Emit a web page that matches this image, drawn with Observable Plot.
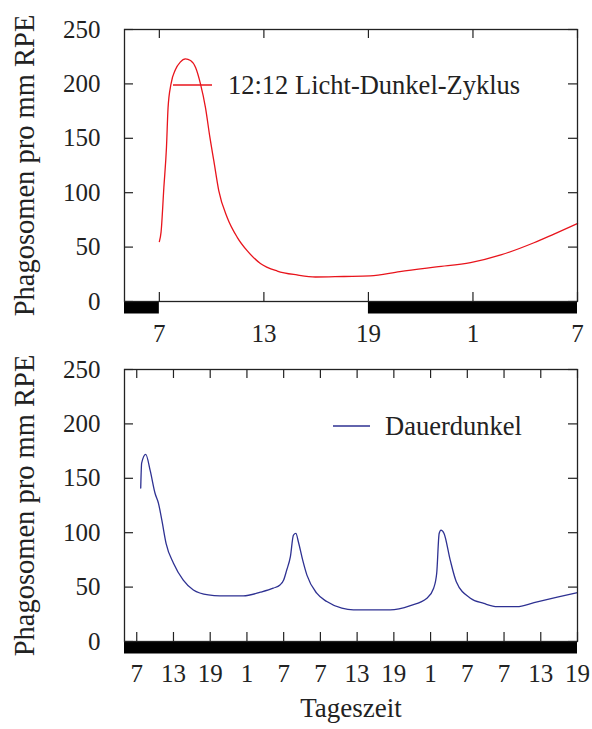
<!DOCTYPE html>
<html>
<head>
<meta charset="utf-8">
<script src="https://cdn.jsdelivr.net/npm/d3@7"></script>
<script src="https://cdn.jsdelivr.net/npm/@observablehq/plot@0.6"></script>
<style>
  body { margin: 0; background: #fff; }
  #chart svg { display: block; }
</style>
</head>
<body>
<div id="chart"></div>
<script>
// ---- Data ----
// 12:12 light-dark cycle (hours since midnight of day 1, 5 = 5 o'clock)
const ldHours  = [7.0, 7.1, 7.26, 7.41, 7.5, 7.67, 7.92, 8.2, 8.5, 8.79, 9.08, 9.36, 9.65, 9.9, 10.13, 10.41, 10.9, 11.47, 12.05, 12.8, 13.77, 14.9, 15.96, 17.6, 19.1, 20.8, 22.9, 24.86, 26.6, 28.5, 29.65, 31.0];
const ldValues = [55, 64, 105, 142, 178, 200, 213, 220, 223, 221.5, 215, 200, 178, 151, 129, 102, 77, 59, 46.5, 35, 28, 24.4, 22.5, 23, 23.5, 27.5, 31.8, 35.7, 42.8, 54, 62, 71.6];

// constant darkness
const ddHours  = [7.65, 7.8, 8.47, 9.2, 10, 10.55, 11.1, 11.8, 13, 14.6, 16.25, 18.7, 20.6, 24.4, 27.2, 29.3, 30.4, 31, 31.5, 32.1, 32.6, 33, 33.4, 34.1, 34.8, 36.4, 38.05, 40.5, 42.4, 48.4, 51.7, 54.4, 55.5, 56, 56.4, 56.7, 57.2, 58.2, 59.2, 61.5, 63.7, 65.9, 69.1, 71.9, 75.7, 79];
const ddValues = [141, 164, 172, 157, 136, 127, 111.5, 90, 72, 56.5, 47.4, 42.8, 42, 42, 45.3, 49, 52, 56.5, 65.7, 78, 97.8, 99.3, 91.7, 75, 61, 44.4, 36.7, 30.6, 29, 29, 33, 39.8, 49, 62.7, 99.3, 102.4, 99.3, 75, 55, 39.8, 35, 32, 32, 35.7, 40.7, 45];

const topTicks = [7, 13, 19, 25, 31];
const topTickLabels = ["7", "13", "19", "1", "7"];
const bottomTicks = [7, 13, 19, 25, 31, 37, 43, 49, 55, 61, 67, 73, 79];
const bottomTickLabels = ["7", "13", "19", "1", "7", "7", "13", "19", "1", "7", "7", "13", "19"];
const yTicks = [0, 50, 100, 150, 200, 250];

const ldDarkStart = [5, 19];
const ldDarkEnd   = [7, 31];
const ddDarkStart = [5];
const ddDarkEnd   = [79];

const yTitle = "Phagosomen pro mm RPE";
const xTitle = "Tageszeit";
const ldLabel = "12:12 Licht-Dunkel-Zyklus";
const ddLabel = "Dauerdunkel";

// ---- Layout ----
const W = 592, ML = 124, MR = 15;
const TICK = 9;
const INK = "#222";
const FONT = "'Liberation Serif', 'Times New Roman', serif";

function legendMark(label, color, x1, x2, tx, cy) {
  return () => {
    const g = d3.create("svg:g");
    g.append("line").attr("x1", x1).attr("x2", x2).attr("y1", cy).attr("y2", cy)
      .attr("stroke", color).attr("stroke-width", 1.3);
    g.append("text").attr("x", tx).attr("y", cy).attr("dy", "0.35em")
      .attr("text-anchor", "start")
      .attr("fill", INK).style("font-size", "26.5px").text(label);
    return g.node();
  };
}

function panel({hours, values, color, darkStart, darkEnd, xDomain, xTicks, xLabels, height, marginTop, marginBottom, legend, withXTitle}) {
  const data = hours.map((h, i) => ({h, v: values[i]}));
  const dark = darkStart.map((s, i) => ({start: s, end: darkEnd[i]}));
  const labelMap = new Map(xTicks.map((t, i) => [t, xLabels[i]]));
  const plotH = height - marginTop - marginBottom;
  const plotW = W - ML - MR;
  const marks = [
    // dark-phase bars below the frame
    Plot.ruleY(dark, {x1: "start", x2: "end", y: () => 0, stroke: "#000", strokeWidth: 12, dy: 6}),
    // inward tick marks on all four sides
    Plot.tickX(xTicks, {x: d => d, insetTop: plotH - TICK, stroke: INK, strokeWidth: 1.2}),
    Plot.tickX(xTicks, {x: d => d, insetBottom: plotH - TICK, stroke: INK, strokeWidth: 1.2}),
    Plot.tickY(yTicks, {y: d => d, insetRight: plotW - TICK, stroke: INK, strokeWidth: 1.2}),
    Plot.tickY(yTicks, {y: d => d, insetLeft: plotW - TICK, stroke: INK, strokeWidth: 1.2}),
    Plot.axisX(xTicks, {tickSize: 0, tickPadding: 23, tickFormat: d => labelMap.get(d), label: null, fill: INK, fontSize: 25}),
    Plot.axisY(yTicks, {tickSize: 0, tickPadding: 24, label: null, fill: INK, fontSize: 25}),
    Plot.line(data, {x: "h", y: "v", stroke: color, strokeWidth: 1.3, curve: "monotone-x"}),
    Plot.frame({stroke: INK, strokeWidth: 1.3}),
    Plot.text([yTitle], {text: d => d, frameAnchor: "left", textAnchor: "middle", lineAnchor: "middle", rotate: -90, dx: -100, fill: INK, fontSize: 28.5}),
    legend
  ];
  if (withXTitle) {
    marks.push(Plot.text([xTitle], {text: d => d, frameAnchor: "bottom", lineAnchor: "middle", dy: 67, fill: INK, fontSize: 27}));
  }
  return Plot.plot({
    width: W,
    height,
    marginLeft: ML,
    marginRight: MR,
    marginTop,
    marginBottom,
    style: {fontFamily: FONT, fontSize: "25px", color: INK, background: "#fff", overflow: "visible"},
    x: {domain: xDomain},
    y: {domain: [0, 250]},
    marks
  });
}

const topChart = panel({
  hours: ldHours, values: ldValues, color: "#e8141c",
  darkStart: ldDarkStart, darkEnd: ldDarkEnd,
  xDomain: [5, 31], xTicks: topTicks, xLabels: topTickLabels,
  height: 346, marginTop: 29, marginBottom: 45,
  legend: legendMark(ldLabel, "#e8141c", 173, 212, 228, 85),
  withXTitle: false
});

const bottomChart = panel({
  hours: ddHours, values: ddValues, color: "#2e3192",
  darkStart: ddDarkStart, darkEnd: ddDarkEnd,
  xDomain: [5, 79], xTicks: bottomTicks, xLabels: bottomTickLabels,
  height: 383, marginTop: 23, marginBottom: 88,
  legend: legendMark(ddLabel, "#2e3192", 333, 370, 385, 80),
  withXTitle: true
});

const chart = document.getElementById("chart");
chart.appendChild(topChart);
chart.appendChild(bottomChart);
</script>
</body>
</html>
